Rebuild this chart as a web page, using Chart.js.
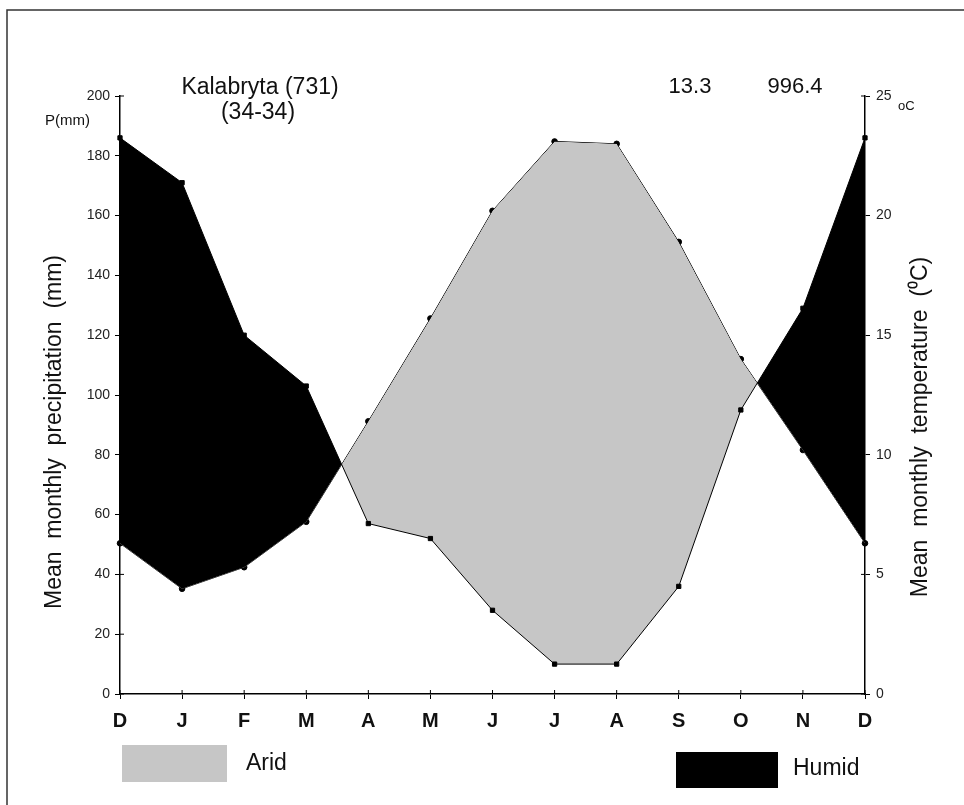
<!DOCTYPE html>
<html>
<head>
<meta charset="utf-8">
<script src="https://cdn.jsdelivr.net/npm/chart.js@4.4.1/dist/chart.umd.min.js"></script>
<style>
  html, body { margin: 0; padding: 0; background: #fff; }
  canvas { display: block; }
</style>
</head>
<body>
<canvas id="ombro" width="964" height="805"></canvas>
<script>
const months = ['D', 'J', 'F', 'M', 'A', 'M', 'J', 'J', 'A', 'S', 'O', 'N', 'D'];
const precipitation = [186, 171, 120, 103, 57, 52, 28, 10, 10, 36, 95, 129, 186];   // mm
const temperature = [6.3, 4.4, 5.3, 7.2, 11.4, 15.7, 20.2, 23.1, 23.0, 18.9, 14.0, 10.2, 6.3]; // oC
const precipRange = [0, 200, 20];  // min, max, step
const tempRange = [0, 25, 5];
const stationName = 'Kalabryta (731)';
const stationPeriod = '(34-34)';
const meanTemp = '13.3';
const totalPrecip = '996.4';

const FONT = '"Liberation Sans", Arial, sans-serif';
const ARID = '#c6c6c6';
const HUMID = '#000000';

// extra texts, legend, inner tick marks and frame drawn straight on the canvas
const extras = {
  id: 'extras',
  afterDraw(chart) {
    const ctx = chart.ctx;
    const area = chart.chartArea;
    ctx.save();
    ctx.strokeStyle = '#333';
    ctx.lineWidth = 1.5;
    ctx.beginPath();
    ctx.moveTo(7, 805); ctx.lineTo(7, 10); ctx.lineTo(964, 10);
    ctx.stroke();

    // ticks crossing the axes (inner half)
    ctx.strokeStyle = '#000';
    ctx.lineWidth = 1;
    ctx.beginPath();
    chart.scales.x.ticks.forEach((t, i) => {
      const px = chart.scales.x.getPixelForTick(i);
      ctx.moveTo(px, area.bottom); ctx.lineTo(px, area.bottom - 4);
    });
    chart.scales.y.ticks.forEach((t, i) => {
      const py = chart.scales.y.getPixelForTick(i);
      ctx.moveTo(area.left, py); ctx.lineTo(area.left + 4, py);
    });
    chart.scales.y1.ticks.forEach((t, i) => {
      const py = chart.scales.y1.getPixelForTick(i);
      ctx.moveTo(area.right, py); ctx.lineTo(area.right - 4, py);
    });
    ctx.stroke();

    ctx.fillStyle = '#111';
    ctx.textBaseline = 'middle';
    ctx.textAlign = 'center';
    ctx.font = '23px ' + FONT;
    ctx.fillText(stationName, 260, 88);
    ctx.fillText(stationPeriod, 258, 113);
    ctx.font = '22px ' + FONT;
    ctx.fillText(meanTemp, 690, 87);
    ctx.fillText(totalPrecip, 795, 87);

    ctx.textAlign = 'left';
    ctx.font = '15px ' + FONT;
    ctx.fillText('P(mm)', 45, 121);
    ctx.font = '13px ' + FONT;
    ctx.fillText('oC', 898, 106);

    ctx.font = '23px ' + FONT;
    ctx.textAlign = 'center';
    ctx.save();
    ctx.translate(55, 432);
    ctx.rotate(-Math.PI / 2);
    ctx.fillText('Mean  monthly  precipitation  (mm)', 0, 0);
    ctx.restore();
    ctx.save();
    ctx.translate(921, 427);
    ctx.rotate(-Math.PI / 2);
    ctx.fillText('Mean  monthly  temperature  (\u2070C)', 0, 0);
    ctx.restore();

    // legend
    ctx.fillStyle = ARID;
    ctx.fillRect(122, 745, 105, 37);
    ctx.fillStyle = HUMID;
    ctx.fillRect(676, 752, 102, 36);
    ctx.fillStyle = '#111';
    ctx.textAlign = 'left';
    ctx.font = '23px ' + FONT;
    ctx.fillText('Arid', 246, 764);
    ctx.fillText('Humid', 793, 769);
    ctx.restore();
  }
};

const axisGrid = { drawOnChartArea: false, drawTicks: true, tickLength: 5, color: '#000', lineWidth: 1 };
const axisBorder = { color: '#000', width: 1.5 };

new Chart(document.getElementById('ombro').getContext('2d'), {
  type: 'line',
  data: {
    labels: months,
    datasets: [
      {
        label: 'Precipitation', data: precipitation, yAxisID: 'y',
        borderColor: '#000', borderWidth: 1, tension: 0,
        pointStyle: 'rect', pointRadius: 3, pointBackgroundColor: '#000', pointBorderColor: '#000',
        fill: { target: 1, above: HUMID, below: ARID }, clip: 8
      },
      {
        label: 'Temperature', data: temperature, yAxisID: 'y1',
        borderColor: '#000', borderWidth: 1, tension: 0,
        pointStyle: 'circle', pointRadius: 2.8, pointBackgroundColor: '#000', pointBorderColor: '#000',
        fill: false, clip: 8
      }
    ]
  },
  options: {
    responsive: false,
    devicePixelRatio: 1,
    animation: false,
    layout: { padding: { top: 96, left: 0, right: 0, bottom: 0 } },
    plugins: { legend: { display: false }, tooltip: { enabled: false } },
    scales: {
      x: {
        offset: false,
        grid: axisGrid, border: axisBorder,
        ticks: { color: '#111', font: { family: FONT, size: 20, weight: 'bold' }, padding: 10, maxRotation: 0, autoSkip: false },
        afterFit(s) { s.height = 111; }
      },
      y: {
        position: 'left', min: precipRange[0], max: precipRange[1],
        grid: axisGrid, border: axisBorder,
        ticks: { stepSize: precipRange[2], color: '#222', font: { family: FONT, size: 14 }, padding: 5 },
        afterFit(s) { s.width = 120; }
      },
      y1: {
        position: 'right', min: tempRange[0], max: tempRange[1],
        grid: axisGrid, border: axisBorder,
        ticks: { stepSize: tempRange[2], color: '#222', font: { family: FONT, size: 14 }, padding: 6 },
        afterFit(s) { s.width = 99; }
      }
    }
  },
  plugins: [extras]
});
</script>
</body>
</html>
